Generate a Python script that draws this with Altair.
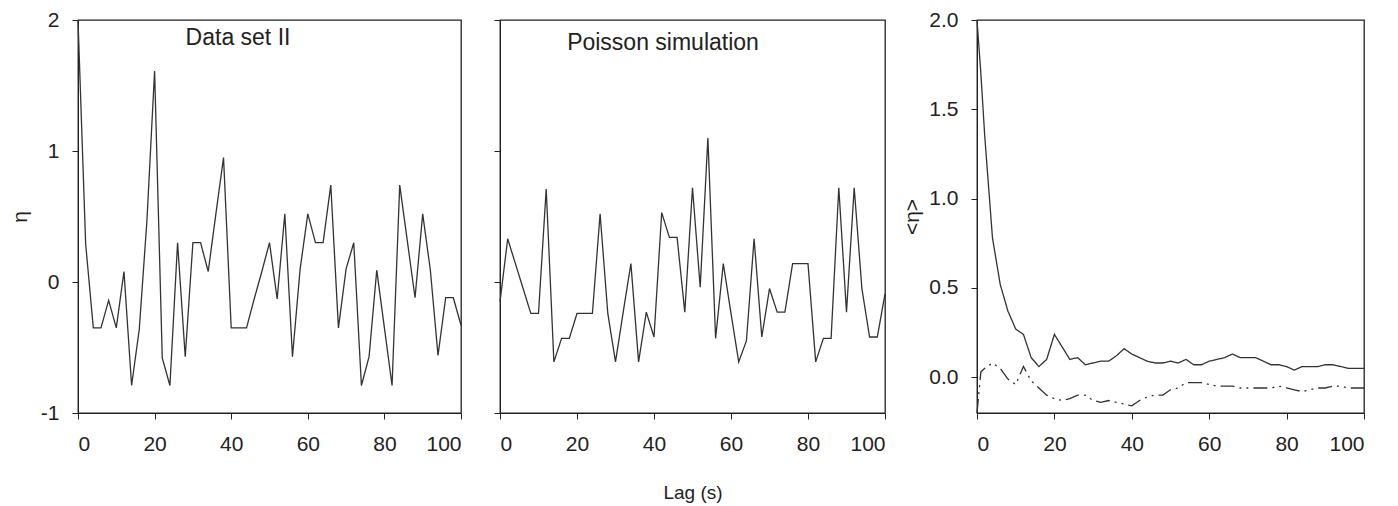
import altair as alt
import pandas as pd

# ---- data ----
lag = list(range(0, 101, 2))

data_set_ii = [2.0, 0.29, -0.35, -0.35, -0.14, -0.35, 0.08, -0.79, -0.36, 0.47,
               1.61, -0.58, -0.79, 0.30, -0.57, 0.30, 0.30, 0.08, 0.52, 0.95,
               -0.35, -0.35, -0.35, -0.13, 0.08, 0.30, -0.13, 0.52, -0.57, 0.10,
               0.52, 0.30, 0.30, 0.74, -0.35, 0.10, 0.30, -0.79, -0.57, 0.09,
               -0.35, -0.79, 0.74, 0.31, -0.12, 0.52, 0.09, -0.56, -0.12, -0.12,
               -0.33]

poisson_sim = [-0.15, 0.33, 0.14, -0.05, -0.24, -0.24, 0.71, -0.61, -0.43, -0.43,
               -0.24, -0.24, -0.24, 0.52, -0.24, -0.61, -0.23, 0.14, -0.61, -0.23,
               -0.42, 0.53, 0.34, 0.34, -0.23, 0.72, -0.04, 1.10, -0.43, 0.14,
               -0.24, -0.61, -0.45, 0.33, -0.42, -0.05, -0.23, -0.23, 0.14, 0.14,
               0.14, -0.61, -0.43, -0.43, 0.72, -0.23, 0.72, -0.05, -0.42, -0.42,
               -0.09]

lag_avg = [0, 1] + list(range(2, 101, 2))

avg_data = [2.0, 1.7, 1.35, 0.78, 0.52, 0.37, 0.27, 0.24, 0.11, 0.06, 0.10,
            0.24, 0.17, 0.10, 0.11, 0.07, 0.08, 0.09, 0.09, 0.12, 0.16,
            0.13, 0.11, 0.09, 0.08, 0.08, 0.09, 0.08, 0.10, 0.07, 0.07,
            0.09, 0.10, 0.11, 0.13, 0.11, 0.11, 0.11, 0.09, 0.07, 0.07,
            0.06, 0.04, 0.06, 0.06, 0.06, 0.07, 0.07, 0.06, 0.05, 0.05, 0.05]

avg_poisson = [-0.2, 0.03, 0.05, 0.08, 0.05, -0.01, -0.04, 0.06, -0.02, -0.06, -0.10,
               -0.12, -0.13, -0.12, -0.10, -0.10, -0.13, -0.14, -0.13, -0.14, -0.15,
               -0.16, -0.13, -0.11, -0.10, -0.10, -0.07, -0.06, -0.03, -0.03, -0.03,
               -0.04, -0.05, -0.05, -0.05, -0.06, -0.06, -0.06, -0.06, -0.06, -0.05,
               -0.06, -0.07, -0.08, -0.07, -0.06, -0.06, -0.05, -0.05, -0.06, -0.06, -0.06]

x_ticks = [0, 20, 40, 60, 80, 100]
eta_ticks = [-1, 0, 1, 2]
avg_ticks = [0.0, 0.5, 1.0, 1.5, 2.0]

FONT = "Liberation Sans"
INK = "#222222"
LINE = "#333333"
PW_L, PW_M, PW_R, PH = 383, 385, 387, 393

df_left = pd.DataFrame({"lag": lag, "eta": data_set_ii})
df_mid = pd.DataFrame({"lag": lag, "eta": poisson_sim})
df_right = pd.concat([
    pd.DataFrame({"lag": lag_avg, "eta": avg_data, "series": "data"}),
    pd.DataFrame({"lag": lag_avg, "eta": avg_poisson, "series": "poisson"}),
])

axis_common = dict(labelFont=FONT, labelFontSize=21, labelColor=INK,
                   titleFont=FONT, titleColor=INK, titleFontWeight="normal",
                   domainColor=INK, tickColor=INK, tickSize=6, grid=False)


def x_axis(title=None):
    kw = dict(values=x_ticks, format="d", labelPadding=14, **axis_common)
    if title:
        kw.update(title=title, titleFontSize=19, titleY=85, titleBaseline="alphabetic")
    else:
        kw.update(title=None)
    return alt.Axis(**kw)


x_scale = alt.Scale(domain=[0, 100], nice=False, zero=False)
eta_scale = alt.Scale(domain=[-1, 2], nice=False, zero=False)

left_line = alt.Chart(df_left).mark_line(color=LINE, strokeWidth=1.3).encode(
    x=alt.X("lag:Q", scale=x_scale, axis=x_axis()),
    y=alt.Y("eta:Q", scale=eta_scale,
            axis=alt.Axis(values=eta_ticks, labelExpr="'' + datum.value", title="η",
                          titleFontSize=21, titlePadding=10, labelPadding=13,
                          **axis_common)),
)
left_text = alt.Chart(pd.DataFrame({"t": ["Data set II"]})).mark_text(
    font=FONT, fontSize=23, color=INK, align="center", baseline="alphabetic"
).encode(x=alt.value(160), y=alt.value(25), text="t:N")
left = alt.layer(left_line, left_text).properties(width=PW_L, height=PH)

mid_line = alt.Chart(df_mid).mark_line(color=LINE, strokeWidth=1.3).encode(
    x=alt.X("lag:Q", scale=x_scale, axis=x_axis("Lag (s)")),
    y=alt.Y("eta:Q", scale=eta_scale,
            axis=alt.Axis(values=eta_ticks, labels=False, title=None, **axis_common)),
)
mid_text = alt.Chart(pd.DataFrame({"t": ["Poisson simulation"]})).mark_text(
    font=FONT, fontSize=23, color=INK, align="center", baseline="alphabetic"
).encode(x=alt.value(163), y=alt.value(30), text="t:N")
mid = alt.layer(mid_line, mid_text).properties(width=PW_M, height=PH)

spacer = alt.Chart(pd.DataFrame({"a": [0]})).mark_point(opacity=0).encode(
    x=alt.X("a:Q", axis=None), y=alt.Y("a:Q", axis=None)
).properties(width=14, height=PH, view=alt.ViewBackground(strokeOpacity=0))

right = alt.Chart(df_right).mark_line(color=LINE, strokeWidth=1.3).encode(
    x=alt.X("lag:Q", scale=x_scale, axis=x_axis()),
    y=alt.Y("eta:Q", scale=alt.Scale(domain=[-0.2, 2.0], nice=False, zero=False),
            axis=alt.Axis(values=avg_ticks, format=".1f", title="<η>", titleFontSize=21,
                          titlePadding=6, labelPadding=13, **axis_common)),
    strokeDash=alt.StrokeDash("series:N", legend=None,
                              scale=alt.Scale(domain=["data", "poisson"],
                                              range=[[1, 0], [14, 5, 2, 5, 2, 5]])),
    detail="series:N",
).properties(width=PW_R, height=PH)

chart = alt.hconcat(left, mid, spacer, right, spacing=39, bounds="flush").properties(
    padding={"left": 0, "top": 0, "right": 5, "bottom": 0},
    background="white",
).configure_view(stroke=INK, strokeWidth=1.3)

chart.save("out.html", embed_options={"renderer": "svg", "actions": False})
